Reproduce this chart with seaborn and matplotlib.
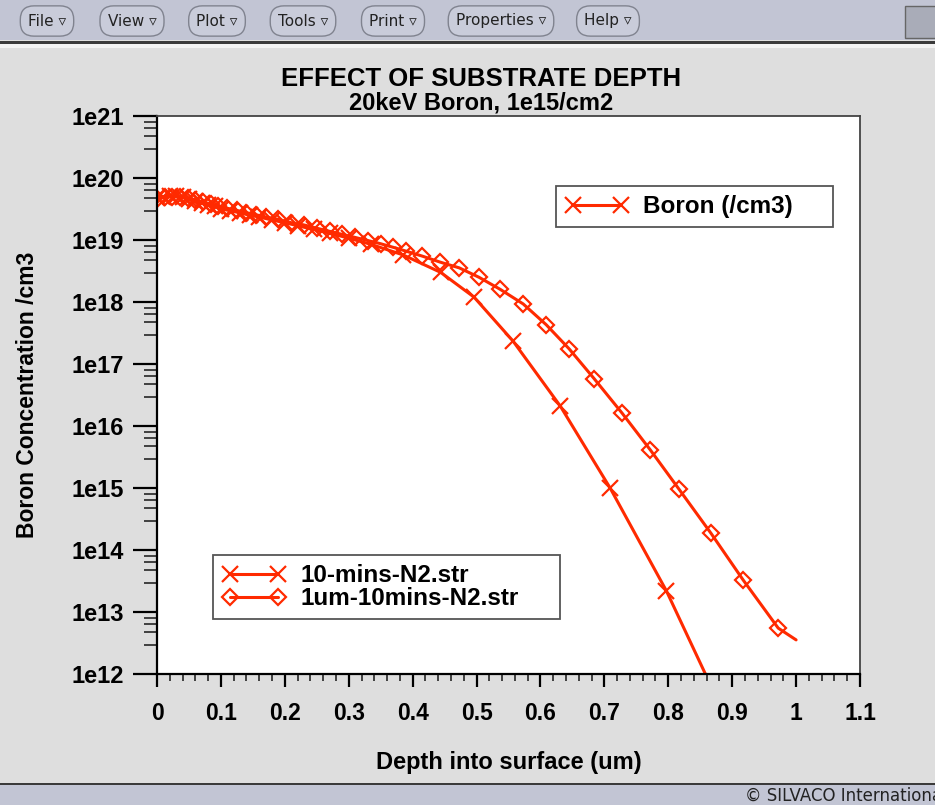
import matplotlib
matplotlib.use('Agg')
import matplotlib.pyplot as plt
import seaborn as sns
from matplotlib.lines import Line2D
from matplotlib.patches import Rectangle
from matplotlib.ticker import FixedLocator, MultipleLocator, NullFormatter

# depth (um) and boron concentration (/cm3)
depth_n2 = [0.0, 0.01, 0.02, 0.03, 0.04, 0.05, 0.06, 0.07, 0.08, 0.09,
            0.10, 0.115, 0.13, 0.145, 0.16, 0.18, 0.20, 0.22, 0.245, 0.27,
            0.30, 0.335, 0.385, 0.444, 0.496, 0.557, 0.631, 0.709, 0.797, 0.90]
boron_n2 = [4.8e19, 5.0e19, 5.1e19, 5.1e19, 4.9e19, 4.6e19, 4.3e19, 4.0e19, 3.7e19, 3.5e19,
            3.2e19, 2.95e19, 2.75e19, 2.5e19, 2.35e19, 2.1e19, 1.9e19, 1.7e19, 1.48e19, 1.29e19,
            1.07e19, 8.5e18, 5.75e18, 3.0e18, 1.2e18, 2.35e17, 2.1e16, 1.0e15, 2.2e13, 1.2e11]

depth_1um = [0.0, 0.012, 0.024, 0.036, 0.048, 0.06, 0.072, 0.084, 0.096, 0.11,
             0.125, 0.14, 0.155, 0.17, 0.19, 0.21, 0.23, 0.25, 0.27, 0.29,
             0.31, 0.33, 0.35, 0.37, 0.39, 0.415, 0.443, 0.473, 0.504, 0.537,
             0.573, 0.609, 0.645, 0.684, 0.728, 0.772, 0.817, 0.867, 0.917, 0.972, 1.0]
boron_1um = [4.6e19, 4.9e19, 5.0e19, 4.9e19, 4.7e19, 4.4e19, 4.1e19, 3.8e19, 3.55e19, 3.25e19,
             3.0e19, 2.75e19, 2.55e19, 2.35e19, 2.15e19, 1.9e19, 1.75e19, 1.55e19, 1.38e19, 1.23e19,
             1.1e19, 9.8e18, 8.7e18, 7.6e18, 6.6e18, 5.5e18, 4.4e18, 3.55e18, 2.5e18, 1.6e18,
             9.3e17, 4.3e17, 1.75e17, 5.8e16, 1.6e16, 4.1e15, 9.5e14, 1.85e14, 3.3e13, 5.5e12, 3.55e12]

x_ticks = [0, 0.1, 0.2, 0.3, 0.4, 0.5, 0.6, 0.7, 0.8, 0.9, 1.0, 1.1]
x_labels = ['0', '0.1', '0.2', '0.3', '0.4', '0.5', '0.6', '0.7', '0.8', '0.9', '1', '1.1']
y_ticks = [1e12, 1e13, 1e14, 1e15, 1e16, 1e17, 1e18, 1e19, 1e20, 1e21]
y_labels = ['1e12', '1e13', '1e14', '1e15', '1e16', '1e17', '1e18', '1e19', '1e20', '1e21']
menu_items = ['File', 'View', 'Plot', 'Tools', 'Print', 'Properties', 'Help']
menu_x = [47, 132, 217, 303, 393, 501, 608]

red = '#ff2a00'
W, H = 935, 805

sns.set_style('ticks')
plt.rcParams['font.family'] = ['Liberation Sans', 'DejaVu Sans']
plt.rcParams['text.color'] = 'black'
plt.rcParams['axes.labelcolor'] = 'black'

fig = plt.figure(figsize=(W / 100, H / 100), dpi=100, facecolor='#dedede')

# window chrome: menu bar and status bar
fig.patches.append(Rectangle((0, 1 - 40 / H), 1, 40 / H, transform=fig.transFigure,
                             fc='#c2c5d4', ec='none'))
fig.patches.append(Rectangle((0, 1 - 44 / H), 1, 3 / H, transform=fig.transFigure,
                             fc='#3a3a3a', ec='none'))
fig.patches.append(Rectangle((0, 1 - 48 / H), 1, 4 / H, transform=fig.transFigure,
                             fc='#f2f2f2', ec='none'))
fig.patches.append(Rectangle((905 / W, 1 - 38 / H), 40 / W, 32 / H, transform=fig.transFigure,
                             fc='#a9acb8', ec='#666666', lw=1))
fig.patches.append(Rectangle((0, 0), 1, 20 / H, transform=fig.transFigure,
                             fc='#c2c5d4', ec='none'))
fig.patches.append(Rectangle((0, 20 / H), 1, 2 / H, transform=fig.transFigure,
                             fc='#3a3a3a', ec='none'))
for name, mx in zip(menu_items, menu_x):
    fig.text(mx / W, 1 - 21 / H, name + ' \u25bf', ha='center', va='center',
             fontsize=11, family='DejaVu Sans', color='#222222',
             bbox=dict(boxstyle='round,pad=0.5,rounding_size=0.9',
                       fc='#c9ccda', ec='#80838f', lw=1))
# the status bar text runs past the window edge, as in the screenshot
fig.text(745 / W, 9 / H, '\u00a9 SILVACO International', ha='left', va='center',
         fontsize=12, family='DejaVu Sans', color='#222222')

# titles
fig.text(481 / W, 1 - 79 / H, 'EFFECT OF SUBSTRATE DEPTH', ha='center', va='center',
         fontsize=18.5, fontweight='bold')
fig.text(481 / W, 1 - 103 / H, '20keV Boron, 1e15/cm2', ha='center', va='center',
         fontsize=17, fontweight='bold')

ax = fig.add_axes([157 / W, 1 - 674 / H, (860 - 157) / W, (674 - 116) / H])
ax.set_facecolor('white')

sns.lineplot(x=depth_n2, y=boron_n2, ax=ax, color=red, linewidth=2.2,
             marker='x', markersize=12, markeredgewidth=1.6, markeredgecolor=red,
             markevery=list(range(len(depth_n2) - 1)), sort=False, estimator=None)
sns.lineplot(x=depth_1um, y=boron_1um, ax=ax, color=red, linewidth=2.2,
             marker='D', markersize=8.5, markeredgewidth=1.6, markeredgecolor=red,
             markerfacecolor='none', markevery=list(range(len(depth_1um) - 1)),
             sort=False, estimator=None)

ax.set_yscale('log')
ax.set_xlim(0, 1.1)
ax.set_ylim(1e12, 1e21)
ax.set_xticks(x_ticks)
ax.set_xticklabels(x_labels)
ax.xaxis.set_minor_locator(MultipleLocator(0.02))
ax.set_yticks(y_ticks)
ax.set_yticklabels(y_labels)
minor_y = [d * s for d in y_ticks[:-1] for s in (2.9, 4.7, 6.5, 8.1)]
ax.yaxis.set_minor_locator(FixedLocator(minor_y))
ax.yaxis.set_minor_formatter(NullFormatter())

ax.tick_params(axis='x', which='major', direction='out', length=9, width=1.6,
               pad=11, labelsize=16.5, colors='black')
ax.tick_params(axis='x', which='minor', direction='out', length=5, width=1.2)
ax.tick_params(axis='y', which='major', direction='out', length=17, width=1.6,
               pad=7, labelsize=17, colors='black')
ax.tick_params(axis='y', which='minor', direction='out', length=9.5, width=1.2)
for lab in ax.get_xticklabels() + ax.get_yticklabels():
    lab.set_fontweight('bold')
for lab in ax.get_yticklabels():
    lab.set_verticalalignment('center_baseline')
for side in ['left', 'bottom']:
    ax.spines[side].set_linewidth(1.6)
    ax.spines[side].set_color('black')
for side in ['top', 'right']:
    ax.spines[side].set_linewidth(1.3)
    ax.spines[side].set_color('#444444')

ax.set_xlabel('Depth into surface (um)', fontsize=17, fontweight='bold')
ax.set_ylabel('Boron Concentration /cm3', fontsize=16.5, fontweight='bold')
ax.xaxis.set_label_coords(0.5, -0.138)
ax.yaxis.set_label_coords(-0.168, 0.5)

# legends drawn as in tonyplot
h_x = Line2D([], [], color=red, linewidth=2.2, marker='x', markersize=12,
             markeredgewidth=1.6)
h_d = Line2D([], [], color=red, linewidth=2.2, marker='D', markersize=8.5,
             markeredgewidth=1.6, markerfacecolor='none')
leg_kw = dict(loc='upper left', mode='expand', numpoints=2, fancybox=False,
              framealpha=1, edgecolor='#555555', handletextpad=0.6,
              prop={'weight': 'bold', 'size': 17.5, 'family': 'Liberation Sans'},
              bbox_transform=fig.transFigure, borderaxespad=0)
leg1 = ax.legend([h_x], ['Boron (/cm3)'],
                 bbox_to_anchor=(556 / W, 1 - 225 / H, 277 / W, 39 / H),
                 handlelength=2.6, borderpad=0.38, **leg_kw)
leg1.get_frame().set_linewidth(1.3)
ax.add_artist(leg1)
leg2 = ax.legend([h_x, h_d], ['10-mins-N2.str', '1um-10mins-N2.str'],
                 bbox_to_anchor=(213 / W, 1 - 618 / H, 347 / W, 63 / H),
                 handlelength=2.6, borderpad=0.38, labelspacing=0.0, **leg_kw)
leg2.get_frame().set_linewidth(1.3)

plt.savefig('out.png', dpi=100, facecolor=fig.get_facecolor())
